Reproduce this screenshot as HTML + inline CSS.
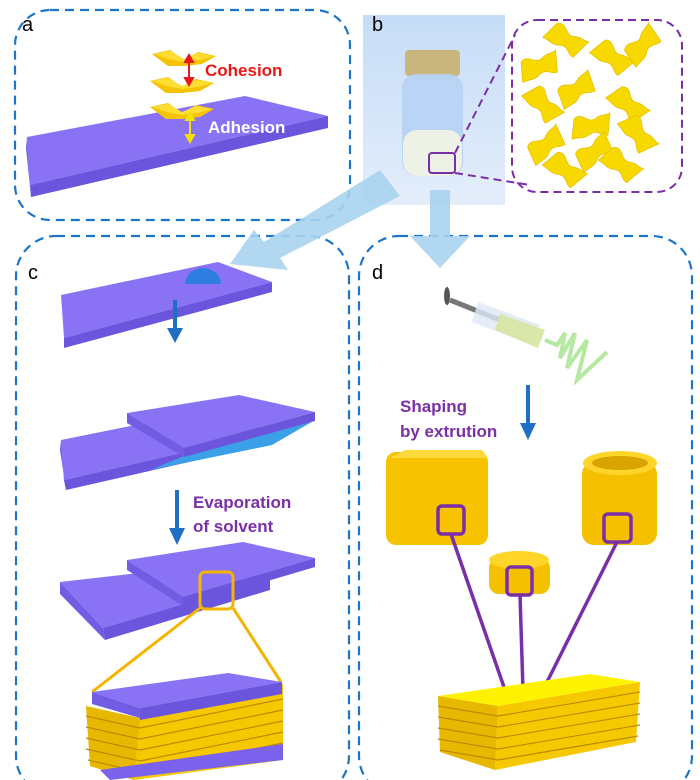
<!DOCTYPE html>
<html><head><meta charset="utf-8"><style>
html,body{margin:0;padding:0;background:#fff;}
svg{display:block;font-family:"Liberation Sans",sans-serif;}
</style></head><body>
<svg width="700" height="780" viewBox="0 0 700 780">
<defs>
<linearGradient id="bg" x1="0" y1="0" x2="0" y2="1"><stop offset="0" stop-color="#c6dcf7"/><stop offset="1" stop-color="#e4eefb"/></linearGradient>
<g id="flake"><path d="M-4,4 C4,-4 10,10 18,3 C23,-1 28,1 32,-2 L30,20 C24,22 19,13 11,20 C6,24 2,22 -6,24 Z" fill="#f7d900" stroke="#e8c000" stroke-width="0.8"/></g>
<g id="pair"><path d="M0,4 L18,0 L32,10 L46,2 L64,6 L50,14 L32,16 L16,16 Z" fill="#f5c400"/><path d="M2,4 L18,1 L32,9 L46,3 L62,6 L48,10 L32,12 L16,9 Z" fill="#ffdd33"/></g>
</defs>
<rect width="700" height="780" fill="#fff"/>
<g fill="none" stroke="#1c75c8" stroke-width="2.2" stroke-dasharray="9,6">
<rect x="15" y="10" width="335" height="210" rx="35"/>
<rect x="16" y="236" width="333" height="560" rx="40"/>
<rect x="359" y="236" width="333" height="560" rx="40"/>
</g>
<rect x="363" y="15" width="142" height="190" fill="url(#bg)"/>
<text x="22" y="31" font-size="20">a</text>
<text x="372" y="31" font-size="20">b</text>
<text x="28" y="279" font-size="20">c</text>
<text x="372" y="279" font-size="20">d</text>

<polygon points="27,137 245,96 328,116 30,185" fill="#8a72f5"/>
<polygon points="30,185 328,116 328,128 31,197" fill="#6b55dc"/>
<polygon points="27,137 30,185 31,197 26,148" fill="#735ce4"/>
<use href="#pair" x="152" y="50"/>
<use href="#pair" x="150" y="77"/>
<use href="#pair" x="150" y="103"/>
<g stroke="#e81818" stroke-width="2" fill="#e81818"><line x1="189" y1="60" x2="189" y2="80"/><polygon points="185,62 193,62 189,55"/><polygon points="185,78 193,78 189,85"/></g>
<g stroke="#f2e000" stroke-width="2" fill="#f2e000"><line x1="190" y1="118" x2="190" y2="137"/><polygon points="186,120 194,120 190,113"/><polygon points="186,135 194,135 190,142"/></g>
<text x="205" y="76" font-size="17" font-weight="bold" fill="#e81818">Cohesion</text>
<text x="208" y="133" font-size="17" font-weight="bold" fill="#fff">Adhesion</text>

<rect x="405" y="50" width="55" height="26" rx="4" fill="#c9b67c"/>
<rect x="402" y="74" width="61" height="102" rx="14" fill="#b6d2f3" opacity="0.9"/>
<rect x="403" y="130" width="59" height="46" rx="14" fill="#eef1e6"/>
<rect x="429" y="153" width="26" height="20" rx="3" fill="none" stroke="#7b2fa6" stroke-width="2"/>
<g stroke="#7b2fa6" stroke-width="2" stroke-dasharray="8,5" fill="none">
<line x1="455" y1="153" x2="515" y2="35"/><line x1="455" y1="173" x2="530" y2="185"/>
<rect x="512" y="20" width="170" height="172" rx="25"/>
</g>
<g>
<use href="#flake" x="525" y="55" transform="rotate(-10 540 60)"/>
<use href="#flake" x="553" y="30" transform="rotate(40 568 40)"/>
<use href="#flake" x="600" y="48" transform="rotate(45 615 57)"/>
<use href="#flake" x="628" y="33" transform="rotate(-40 643 43)"/>
<use href="#flake" x="562" y="78" transform="rotate(-25 577 87)"/>
<use href="#flake" x="615" y="95" transform="rotate(50 630 105)"/>
<use href="#flake" x="530" y="95" transform="rotate(55 545 105)"/>
<use href="#flake" x="578" y="115"/>
<use href="#flake" x="625" y="125" transform="rotate(60 640 135)"/>
<use href="#flake" x="532" y="133" transform="rotate(-30 547 143)"/>
<use href="#flake" x="580" y="140" transform="rotate(-30 595 150)"/>
<use href="#flake" x="552" y="160" transform="rotate(45 567 170)"/>
<use href="#flake" x="608" y="155" transform="rotate(45 623 165)"/>
</g>
<polygon points="380,170 400,196 280,258 288,270 230,264 254,230 264,242" fill="#a9d3ef" opacity="0.9"/>
<polygon points="430,190 450,190 450,236 470,236 440,268 410,236 430,236" fill="#a9d3ef" opacity="0.9"/>

<polygon points="61,295 218,262 272,282 64,338" fill="#8a72f5"/>
<polygon points="64,338 272,282 272,292 64,348" fill="#6b55dc"/>
<path d="M185,284 a18,16 0 0 1 36,0 z" fill="#2f7de0"/>
<line x1="175" y1="300" x2="175" y2="330" stroke="#1f6fc4" stroke-width="4"/><polygon points="167,328 183,328 175,343" fill="#1f6fc4"/>
<polygon points="61,440 210,410 272,432 64,480" fill="#8a72f5"/>
<polygon points="64,480 272,432 272,443 66,490" fill="#6b55dc"/>
<polygon points="61,440 64,480 66,490 60,450" fill="#735ce4"/>
<polygon points="184,456 315,420 272,445 150,470" fill="#3aa0e8"/>
<polygon points="127,413 239,395 315,412 184,448" fill="#8a72f5"/>
<polygon points="184,448 315,412 315,421 184,457" fill="#6b55dc"/>
<polygon points="127,413 184,448 184,457 127,423" fill="#735ce4"/>
<line x1="177" y1="490" x2="177" y2="530" stroke="#1f6fc4" stroke-width="4"/><polygon points="169,528 185,528 177,545" fill="#1f6fc4"/>
<text x="193" y="508" font-size="17" font-weight="bold" fill="#7b2fa6">Evaporation</text>
<text x="193" y="532" font-size="17" font-weight="bold" fill="#7b2fa6">of solvent</text>
<polygon points="60,582 210,565 270,578 103,628" fill="#8a72f5"/>
<polygon points="103,628 270,578 270,590 105,640" fill="#6b55dc"/>
<polygon points="60,582 103,628 105,640 60,594" fill="#735ce4"/>
<polygon points="127,560 243,542 315,558 183,597" fill="#8a72f5"/>
<polygon points="183,597 315,558 315,567 183,606" fill="#6b55dc"/>
<polygon points="127,560 183,597 183,606 127,570" fill="#735ce4"/>
<rect x="200" y="572" width="33" height="37" rx="5" fill="none" stroke="#f5b400" stroke-width="3"/>
<line x1="200" y1="608" x2="92" y2="692" stroke="#f5b400" stroke-width="3"/>
<line x1="233" y1="608" x2="281" y2="682" stroke="#f5b400" stroke-width="3"/>
<polygon points="140,712 283,684 283,760 134,780" fill="#f5c800"/>
<polygon points="86,706 140,718 134,780 90,766" fill="#e8b800"/>
<g stroke="#b88c00" stroke-width="1.2">
<line x1="86" y1="716" x2="140" y2="728"/><line x1="86" y1="727" x2="140" y2="739"/><line x1="86" y1="738" x2="140" y2="750"/><line x1="86" y1="749" x2="140" y2="761"/><line x1="88" y1="760" x2="140" y2="772"/>
<line x1="140" y1="728" x2="283" y2="699"/><line x1="140" y1="739" x2="283" y2="710"/><line x1="140" y1="750" x2="283" y2="721"/><line x1="140" y1="761" x2="283" y2="732"/><line x1="140" y1="772" x2="283" y2="743"/>
</g>
<polygon points="92,692 228,673 282,682 140,708" fill="#8a72f5"/>
<polygon points="92,692 140,708 140,718 92,704" fill="#735ce4"/>
<polygon points="140,708 282,682 282,694 140,720" fill="#6b55dc"/>
<polygon points="100,770 283,744 283,760 110,780" fill="#7a62ec"/>
<line x1="450" y1="300" x2="500" y2="320" stroke="#777" stroke-width="5"/>
<ellipse cx="447" cy="296" rx="3" ry="9" fill="#555"/>
<polygon points="478,302 540,325 532,345 472,322" fill="#dde9f5" opacity="0.8"/>
<polygon points="500,314 545,330 538,348 495,330" fill="#d6e6a0" opacity="0.9"/>
<path d="M545,340 l12,5 l8,-12 l-5,25 l15,-25 l-8,35 l20,-28 l-10,40 l30,-28" fill="none" stroke="#b5e8a0" stroke-width="4"/>
<line x1="528" y1="385" x2="528" y2="425" stroke="#1f6fc4" stroke-width="4"/><polygon points="520,423 536,423 528,440" fill="#1f6fc4"/>
<text x="400" y="412" font-size="17" font-weight="bold" fill="#7b2fa6">Shaping</text>
<text x="400" y="437" font-size="17" font-weight="bold" fill="#7b2fa6">by extrution</text>
<rect x="386" y="452" width="102" height="93" rx="10" fill="#f7c200"/>
<polygon points="390,458 405,450 482,450 488,458" fill="#ffd93a"/>
<rect x="582" y="462" width="75" height="83" rx="12" fill="#f5c000"/>
<ellipse cx="620" cy="463" rx="37" ry="12" fill="#ffd52a"/>
<ellipse cx="620" cy="463" rx="28" ry="7" fill="#d9a400"/>
<rect x="489" y="558" width="61" height="36" rx="10" fill="#f5c000"/>
<ellipse cx="519" cy="560" rx="30" ry="9" fill="#ffd52a"/>
<g fill="none" stroke="#7b2fa6" stroke-width="3.5">
<rect x="438" y="506" width="26" height="28" rx="4"/>
<rect x="507" y="567" width="25" height="28" rx="4"/>
<rect x="604" y="514" width="27" height="28" rx="4"/>
<line x1="451" y1="534" x2="505" y2="690"/>
<line x1="520" y1="595" x2="523" y2="690"/>
<line x1="617" y1="542" x2="543" y2="690"/>
</g>
<polygon points="498,706 640,682 636,742 495,770" fill="#f5c800"/>
<polygon points="438,696 498,706 495,770 440,752" fill="#e8b800"/>
<polygon points="438,696 590,674 640,682 498,706" fill="#fff200"/>
<g stroke="#b88c00" stroke-width="1.2">
<line x1="438" y1="706" x2="498" y2="716"/><line x1="438" y1="717" x2="498" y2="727"/><line x1="438" y1="728" x2="498" y2="738"/><line x1="438" y1="739" x2="498" y2="749"/><line x1="440" y1="750" x2="498" y2="760"/>
<line x1="498" y1="716" x2="640" y2="692"/><line x1="498" y1="727" x2="640" y2="703"/><line x1="498" y1="738" x2="640" y2="714"/><line x1="498" y1="749" x2="640" y2="725"/><line x1="498" y1="760" x2="638" y2="736"/>
</g>
</svg>
</body></html>
